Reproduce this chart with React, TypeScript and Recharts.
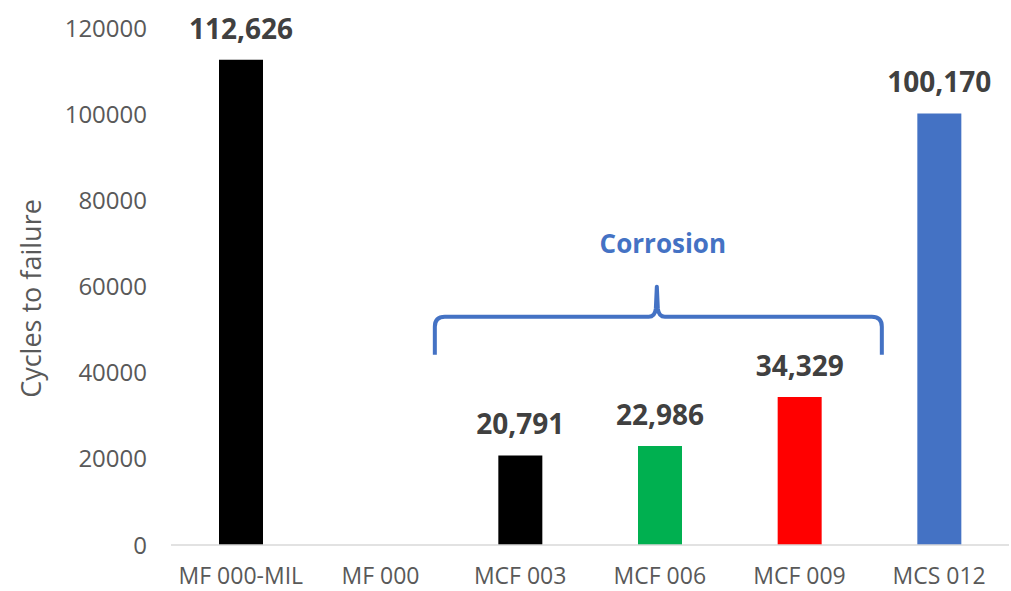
import { ComposedChart, Bar, XAxis, YAxis, Cell, LabelList, ReferenceDot } from "recharts";

const categories = ["MF 000-MIL", "MF 000", "MCF 003", "MCF 006", "MCF 009", "MCS 012"];
const cycles: (number | null)[] = [112626, null, 20791, 22986, 34329, 100170];
const barColors = ["#000000", "#000000", "#000000", "#00B050", "#FF0000", "#4472C4"];
const yTicks = [0, 20000, 40000, 60000, 80000, 100000, 120000];

// brace annotation sits over the three corrosion samples
const braceCategory = "MCF 006";
const braceLevel = 53000;

const data = categories.map((name, i) => ({ name, cycles: cycles[i] }));

const fmt = (v: number) => v.toLocaleString("en-US");

function Brace(props: any) {
  const { cx, cy } = props;
  const c = cx - 3;
  const l = c - 222;
  const r = c + 225;
  const r0 = 10;
  const d = [
    `M ${l} ${cy + 38}`,
    `L ${l} ${cy + r0}`,
    `Q ${l} ${cy} ${l + r0} ${cy}`,
    `L ${c - 8} ${cy}`,
    `Q ${c - 2} ${cy} ${c - 1} ${cy - 8}`,
    `L ${c} ${cy - 30}`,
    `L ${c + 1} ${cy - 8}`,
    `Q ${c + 2} ${cy} ${c + 8} ${cy}`,
    `L ${r - r0} ${cy}`,
    `Q ${r} ${cy} ${r} ${cy + r0}`,
    `L ${r} ${cy + 38}`,
  ].join(" ");
  return (
    <g>
      <path d={d} fill="none" stroke="#4472C4" strokeWidth={4} strokeLinejoin="round" />
      <text x={c + 6} y={cy - 64} textAnchor="middle" fill="#4472C4" fontSize={26} fontWeight="bold" fontFamily="Open Sans">
        Corrosion
      </text>
    </g>
  );
}

function ValueLabel(props: any) {
  const { x, y, width, value } = props;
  if (value == null) return null;
  return (
    <text x={x + width / 2} y={y - 21} textAnchor="middle" fill="#404040" fontSize={28} fontWeight="bold" fontFamily="Open Sans">
      {fmt(value)}
    </text>
  );
}

export default function App() {
  return (
    <div style={{ position: "absolute", left: 0, top: 0, width: 1011, height: 591, background: "#fff" }}>
      <ComposedChart
        width={1011}
        height={591}
        data={data}
        margin={{ top: 28, right: 2, bottom: 0, left: 0 }}
        style={{ fontFamily: "Open Sans" }}
      >
        <XAxis
          dataKey="name"
          axisLine={{ stroke: "#D9D9D9", strokeWidth: 1.5 }}
          tickLine={false}
          tickMargin={17}
          height={46}
          interval={0}
          tick={{ fill: "#595959", fontSize: 23 }}
        />
        <YAxis
          domain={[0, 120000]}
          ticks={yTicks}
          width={171}
          axisLine={false}
          tickLine={false}
          tickMargin={18}
          tick={{ fill: "#595959", fontSize: 24 }}
          label={{
            content: ({ viewBox }: any) => {
              const x = 30;
              const y = viewBox.y + viewBox.height / 2 + 12;
              return (
                <text x={x} y={y} transform={`rotate(-90, ${x}, ${y})`} textAnchor="middle" dominantBaseline="central" fill="#595959" fontSize={27}>
                  Cycles to failure
                </text>
              );
            },
          }}
        />
        <Bar dataKey="cycles" barSize={44} isAnimationActive={false}>
          {data.map((d, i) => (
            <Cell key={`c-${i}`} fill={barColors[i]} />
          ))}
          <LabelList dataKey="cycles" content={ValueLabel} />
        </Bar>
        <ReferenceDot x={braceCategory} y={braceLevel} shape={Brace} ifOverflow="visible" />
      </ComposedChart>
    </div>
  );
}
